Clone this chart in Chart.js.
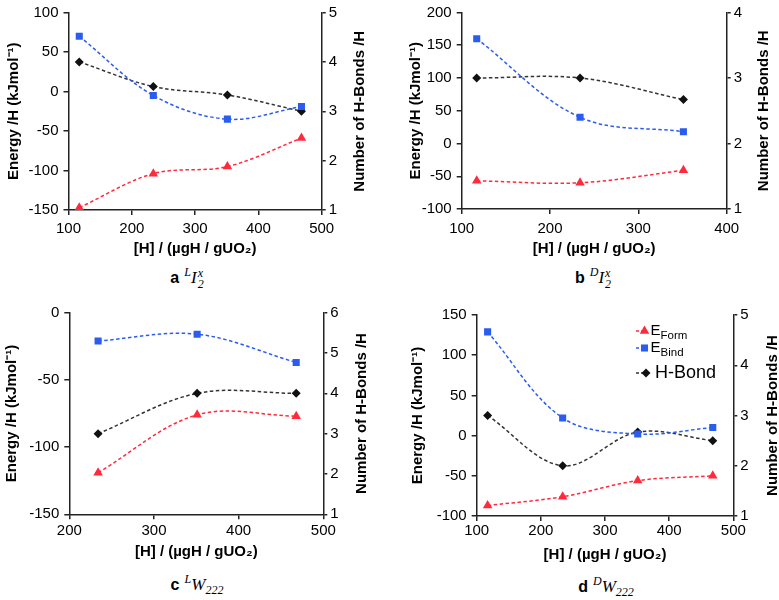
<!DOCTYPE html>
<html>
<head>
<meta charset="utf-8">
<script src="https://cdn.jsdelivr.net/npm/chart.js@4.4.1/dist/chart.umd.min.js"></script>
<style>
  body { margin: 0; width: 779px; height: 600px; background: #fff; overflow: hidden; position: relative; font-family: "Liberation Sans", Arial, sans-serif; }
  canvas { position: absolute; }
  .cap { position: absolute; transform: translate(-50%, -50%); font-size: 16px; white-space: nowrap; color: #000; }
  .cap b { margin-right: 5px; }
  .m { font-family: "Liberation Serif", "DejaVu Serif", serif; font-style: italic; font-size: 17px; }
  .m sup, .m sub { font-size: 12px; }
  .st { display: inline-flex; flex-direction: column; vertical-align: middle; font-size: 12px; line-height: 11px; margin-left: 1px; }
</style>
</head>
<body>
<canvas id="chartA" width="389" height="262" style="left:0;top:0"></canvas>
<canvas id="chartB" width="390" height="262" style="left:389px;top:0"></canvas>
<canvas id="chartC" width="389" height="262" style="left:0;top:300px"></canvas>
<canvas id="chartD" width="390" height="262" style="left:389px;top:300px"></canvas>

<div class="cap" style="left:187px;top:277px"><b>a</b><span class="m"><sup>L</sup>I<span class="st"><span>x</span><span>2</span></span></span></div>
<div class="cap" style="left:593px;top:277px"><b>b</b><span class="m"><sup>D</sup>I<span class="st"><span>x</span><span>2</span></span></span></div>
<div class="cap" style="left:197px;top:585px"><b>c</b><span class="m"><sup>L</sup>W<sub>222</sub></span></div>
<div class="cap" style="left:606px;top:587px"><b>d</b><span class="m"><sup>D</sup>W<sub>222</sub></span></div>

<script>
/* --------------- Data : a  (L I2x) --------------------- */
const xA = [117, 234, 351, 468];
const formA = [-147, -104, -95, -59];
const bindA = [70, -5, -35, -19];
const hbondA = [4, 3.5, 3.33, 3];
/* --------------- Data : b  (D I2x) --------------------- */
const xB = [117, 234, 351];
const formB = [-57, -60, -41];
const bindB = [160, 40, 18];
const hbondB = [3, 3, 2.67];
/* --------------- Data : c  (L W222) --------------------- */
const xC = [234, 351, 468];
const formC = [-119, -76, -77];
const bindC = [-21, -16, -37];
const hbondC = [3, 4, 4];
/* --------------- Data : d  (D W222) --------------------- */
const xD = [117, 234, 351, 468];
const formD = [-87, -76, -56, -50];
const bindD = [129, 22, 2, 10];
const hbondD = [3, 2, 2.67, 2.5];

const FONT = '"Liberation Sans", Arial, sans-serif';
const RED = "#ff2a3b";
const BLUE = "#2b5cf0";
const BLACK = "#111111";
const AXIS = "#222222";

const toPts = (xs, ys) => xs.map((x, i) => ({ x: x, y: ys[i] }));

/* --------------- Right axis title (reads bottom to top) --------------------- */
const rightTitle = {
  id: "rightTitle",
  afterDraw(chart, args, opts) {
    const { ctx, chartArea } = chart;
    ctx.save();
    ctx.translate(opts.x, (chartArea.top + chartArea.bottom) / 2);
    ctx.rotate(-Math.PI / 2);
    ctx.font = "bold 15px " + FONT;
    ctx.fillStyle = "#000";
    ctx.textAlign = "center";
    ctx.textBaseline = "middle";
    ctx.fillText("Number of H-Bonds /H", 0, 0);
    ctx.restore();
  },
};

/* --------------- Legend with subscripts (panel d only) --------------------- */
const subLegend = {
  id: "subLegend",
  afterDraw(chart, args, opts) {
    if (!opts.rows) return;
    const ctx = chart.ctx;
    opts.rows.forEach((r, i) => {
      const ds = chart.data.datasets[i];
      ctx.save();
      ctx.strokeStyle = ds.borderColor;
      ctx.lineWidth = 1.5;
      ctx.setLineDash([3, 2]);
      ctx.beginPath();
      ctx.moveTo(opts.x, r.y);
      ctx.lineTo(r.mx, r.y);
      ctx.stroke();
      ctx.setLineDash([]);
      ctx.fillStyle = ds.pointBackgroundColor;
      Chart.helpers.drawPoint(ctx, { pointStyle: ds.pointStyle, radius: ds.pointRadius, borderWidth: 0, rotation: 0 }, r.mx, r.y);
      ctx.fillStyle = "#000";
      ctx.textBaseline = "middle";
      ctx.textAlign = "left";
      ctx.font = r.size + "px " + FONT;
      ctx.fillText(r.main, r.tx, r.y);
      if (r.sub) {
        const w = ctx.measureText(r.main).width;
        ctx.font = "11.5px " + FONT;
        ctx.fillText(r.sub, r.tx + w, r.y + 5);
      }
      ctx.restore();
    });
  },
};

function makeChart(id, xs, form, bind, hbond, lim, box, legendRows) {
  const tickFont = { family: FONT, size: 15, lineHeight: 1 };
  const titleFont = { family: FONT, size: 15, weight: "bold", lineHeight: 1 };
  const common = { borderWidth: 1.5, borderDash: [3.5, 2.5], tension: 0.35, fill: false, pointBorderWidth: 0 };
  return new Chart(document.getElementById(id), {
    type: "line",
    plugins: [rightTitle, subLegend],
    data: {
      datasets: [
        { ...common, label: "EForm", data: toPts(xs, form), yAxisID: "y", borderColor: RED, pointBackgroundColor: RED, pointStyle: "triangle", pointRadius: 5.5 },
        { ...common, label: "EBind", data: toPts(xs, bind), yAxisID: "y", borderColor: BLUE, pointBackgroundColor: BLUE, pointStyle: "rect", pointRadius: 5 },
        { ...common, label: "H-Bond", data: toPts(xs, hbond), yAxisID: "y1", borderColor: "#333", pointBackgroundColor: BLACK, pointStyle: "rectRot", pointRadius: 4.5 },
      ],
    },
    options: {
      responsive: false,
      animation: false,
      layout: { padding: { top: box.top, left: 0, right: 0, bottom: 0 } },
      plugins: {
        legend: { display: false },
        tooltip: { enabled: false },
        rightTitle: { x: box.rtx },
        subLegend: { rows: legendRows, x: box.lgx },
      },
      scales: {
        x: {
          type: "linear",
          min: lim.x[0],
          max: lim.x[1],
          ticks: { stepSize: 100, color: "#000", font: tickFont, padding: box.xPad, maxRotation: 0 },
          grid: { drawOnChartArea: false, tickLength: 5, color: AXIS, lineWidth: 1.5 },
          border: { color: AXIS, width: 1.5 },
          title: { display: true, text: "[H] / (µgH / gUO₂)", color: "#000", font: titleFont, padding: { top: 0, bottom: box.xtp } },
          afterFit: (s) => { s.height = box.xH; },
        },
        y: {
          position: "left",
          min: lim.y[0],
          max: lim.y[1],
          ticks: { stepSize: 50, color: "#000", font: tickFont, padding: 5 },
          grid: { drawOnChartArea: false, tickLength: 5, color: AXIS, lineWidth: 1.5 },
          border: { color: AXIS, width: 1.5 },
          title: { display: true, text: "Energy /H (kJmol⁻¹)", color: "#000", font: titleFont, padding: { top: box.ytp, bottom: 0 } },
          afterFit: (s) => { s.width = box.left; },
        },
        y1: {
          position: "right",
          min: lim.y1[0],
          max: lim.y1[1],
          ticks: { stepSize: 1, color: "#000", font: tickFont, padding: 3 },
          grid: { drawOnChartArea: false, tickLength: 4, color: AXIS, lineWidth: 1.5 },
          border: { color: AXIS, width: 1.5 },
          afterFit: (s) => { s.width = box.rightW; },
        },
      },
    },
  });
}

makeChart("chartA", xA, formA, bindA, hbondA,
  { x: [100, 500], y: [-150, 100], y1: [1, 5] },
  { left: 68.5, rightW: 67.3, top: 8, xH: 52, xPad: 6, xtp: 6, ytp: 6, rtx: 360 });

makeChart("chartB", xB, formB, bindB, hbondB,
  { x: [100, 400], y: [-100, 200], y1: [1, 4] },
  { left: 72.7, rightW: 52.3, top: 8, xH: 53, xPad: 7, xtp: 6, ytp: 19, rtx: 375 });

makeChart("chartC", xC, formC, bindC, hbondC,
  { x: [200, 500], y: [-150, 0], y1: [1, 6] },
  { left: 69.3, rightW: 65.7, top: 12.7, xH: 47.7, xPad: 4, xtp: 3, ytp: 4, rtx: 362 });

makeChart("chartD", xD, formD, bindD, hbondD,
  { x: [100, 500], y: [-100, 150], y1: [1, 5] },
  { left: 87.7, rightW: 45.7, top: 15, xH: 46, xPad: 2, xtp: 0, ytp: 21, rtx: 384, lgx: 247 },
  [
    { main: "E", sub: "Form", size: 15, y: 31, mx: 255.5, tx: 261.5 },
    { main: "E", sub: "Bind", size: 15, y: 48, mx: 255.5, tx: 261.5 },
    { main: "H-Bond", size: 18, y: 73, mx: 257, tx: 266 },
  ]);
</script>
</body>
</html>
